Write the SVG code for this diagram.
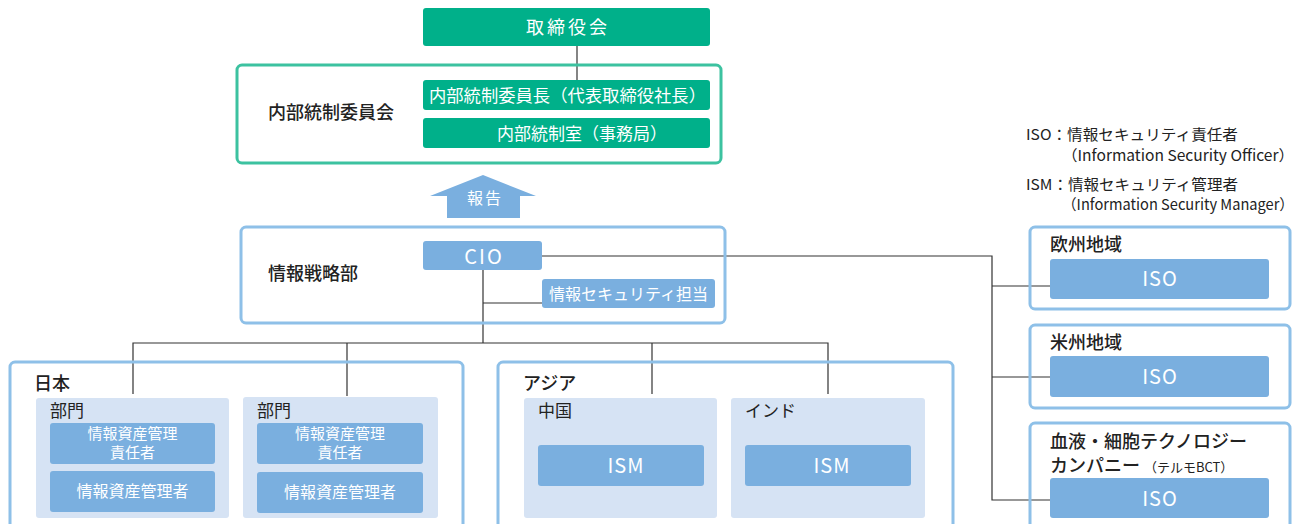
<svg xmlns="http://www.w3.org/2000/svg" width="1306" height="524" viewBox="0 0 1306 524">
<style>
text{font-family:"Noto Sans CJK JP","Noto Sans",sans-serif}
.g{fill:#00b08a}
.gb{fill:none;stroke:#3cc2a0;stroke-width:3}
.bb{fill:none;stroke:#8ec0e8;stroke-width:3}
.b{fill:#7aafdf}
.d{fill:#d6e3f4}
.w{fill:#fff;text-anchor:middle}
.k{fill:#222;font-size:18px;font-weight:500}
.s{fill:#222}
.iso{font-size:20px;letter-spacing:1px}
.ln{fill:none;stroke:#333;stroke-width:1.2}
</style>
<g id="connectors">
<line class="ln" x1="577" y1="46" x2="577" y2="80"/>
<polyline class="ln" points="483,270 483,343"/>
<polyline class="ln" points="483,303 542,303"/>
<polyline class="ln" points="133,394 133,343 828,343 828,394"/>
<line class="ln" x1="347" y1="343" x2="347" y2="396"/>
<line class="ln" x1="652" y1="343" x2="652" y2="394"/>
<polyline class="ln" points="542,256 992,256 992,500 1050,500"/>
<line class="ln" x1="992" y1="286" x2="1050" y2="286"/>
<line class="ln" x1="992" y1="377" x2="1050" y2="377"/>
</g>
<g id="board">
<rect class="g" x="423" y="8" width="287" height="38" rx="3"/>
<text class="w" x="568" y="34" style="font-size:18px;letter-spacing:3px">取締役会</text>
</g>
<g id="committee">
<rect class="gb" x="237" y="65" width="484" height="98" rx="5"/>
<text class="k" x="268" y="119">内部統制委員会</text>
<rect class="g" x="423" y="80" width="287" height="30" rx="3"/>
<text class="w" x="429" y="102" style="font-size:17px;text-anchor:start" textLength="277" lengthAdjust="spacingAndGlyphs">内部統制委員長（代表取締役社長）</text>
<rect class="g" x="423" y="118" width="287" height="30" rx="3"/>
<text class="w" x="497" y="140" style="font-size:17px;text-anchor:start" textLength="170" lengthAdjust="spacingAndGlyphs">内部統制室（事務局）</text>
</g>
<g id="report">
<polygon class="b" points="483,175 536,196 520,196 520,218 447,218 447,196 430,196"/>
<text class="w" x="485" y="204" style="font-size:16px;letter-spacing:2px">報告</text>
</g>
<g id="strategy">
<rect class="bb" x="241" y="227" width="484" height="96" rx="5"/>
<text class="k" x="268" y="280">情報戦略部</text>
</g>
<g id="cio">
<rect class="b" x="423" y="241" width="119" height="29" rx="3"/>
<text class="w" x="484" y="264" style="font-size:20px;letter-spacing:2px">CIO</text>
</g>
<g id="security">
<rect class="b" x="542" y="279" width="173" height="29" rx="3"/>
<text class="w" x="628.5" y="300" style="font-size:16px">情報セキュリティ担当</text>
</g>
<g id="japan">
<rect class="bb" x="10" y="362" width="453" height="170" rx="5"/>
<text class="k" x="34" y="390">日本</text>
</g>
<g id="dept1">
<rect class="d" x="36" y="398" width="193" height="120" rx="3"/>
<text class="s" x="50" y="417" style="font-size:17px">部門</text>
<rect class="b" x="50" y="423" width="165" height="41" rx="3"/>
<text class="w" style="font-size:15px"><tspan x="132.5" y="439">情報資産管理</tspan><tspan x="132.5" y="458">責任者</tspan></text>
<rect class="b" x="50" y="471" width="165" height="41" rx="3"/>
<text class="w" x="132.5" y="497" style="font-size:16px">情報資産管理者</text>
</g>
<g id="dept2">
<rect class="d" x="243" y="397" width="195" height="121" rx="3"/>
<text class="s" x="257" y="417" style="font-size:17px">部門</text>
<rect class="b" x="257" y="423" width="166" height="41" rx="3"/>
<text class="w" style="font-size:15px"><tspan x="340" y="439">情報資産管理</tspan><tspan x="340" y="458">責任者</tspan></text>
<rect class="b" x="257" y="472" width="166" height="41" rx="3"/>
<text class="w" x="340" y="498" style="font-size:16px">情報資産管理者</text>
</g>
<g id="asia">
<rect class="bb" x="498" y="362" width="455" height="170" rx="5"/>
<text class="k" x="523" y="390">アジア</text>
</g>
<g id="china">
<rect class="d" x="524" y="398" width="193" height="120" rx="3"/>
<text class="s" x="538" y="417" style="font-size:17px">中国</text>
<rect class="b" x="538" y="445" width="166" height="41" rx="3"/>
<text class="w iso" x="626" y="473">ISM</text>
</g>
<g id="india">
<rect class="d" x="731" y="398" width="194" height="120" rx="3"/>
<text class="s" x="745" y="417" style="font-size:17px">インド</text>
<rect class="b" x="745" y="445" width="166" height="41" rx="3"/>
<text class="w iso" x="832" y="473">ISM</text>
</g>
<g id="legend">
<text class="s" x="1026" y="140" style="font-size:15px" textLength="212" lengthAdjust="spacingAndGlyphs">ISO：情報セキュリティ責任者</text>
<text class="s" x="1062" y="161" style="font-size:15px" textLength="232" lengthAdjust="spacingAndGlyphs">（Information Security Officer）</text>
<text class="s" x="1026" y="190" style="font-size:15px" textLength="212" lengthAdjust="spacingAndGlyphs">ISM：情報セキュリティ管理者</text>
<text class="s" x="1062" y="210" style="font-size:15px" textLength="232" lengthAdjust="spacingAndGlyphs">（Information Security Manager）</text>
</g>
<g id="europe">
<rect class="bb" x="1030" y="227" width="260" height="82" rx="5"/>
<text class="k" x="1050" y="251">欧州地域</text>
<rect class="b" x="1050" y="259" width="219" height="40" rx="3"/>
<text class="w iso" x="1160" y="286">ISO</text>
</g>
<g id="americas">
<rect class="bb" x="1030" y="325" width="260" height="83" rx="5"/>
<text class="k" x="1050" y="349">米州地域</text>
<rect class="b" x="1050" y="356" width="219" height="41" rx="3"/>
<text class="w iso" x="1160" y="384">ISO</text>
</g>
<g id="bct">
<rect class="bb" x="1030" y="423" width="260" height="110" rx="5"/>
<text class="k" x="1050" y="448">血液・細胞テクノロジー</text>
<text class="k" x="1050" y="472">カンパニー<tspan style="font-size:13px;font-weight:400" dx="4">（テルモBCT）</tspan></text>
<rect class="b" x="1050" y="478" width="219" height="40" rx="3"/>
<text class="w iso" x="1160" y="506">ISO</text>
</g>
</svg>
